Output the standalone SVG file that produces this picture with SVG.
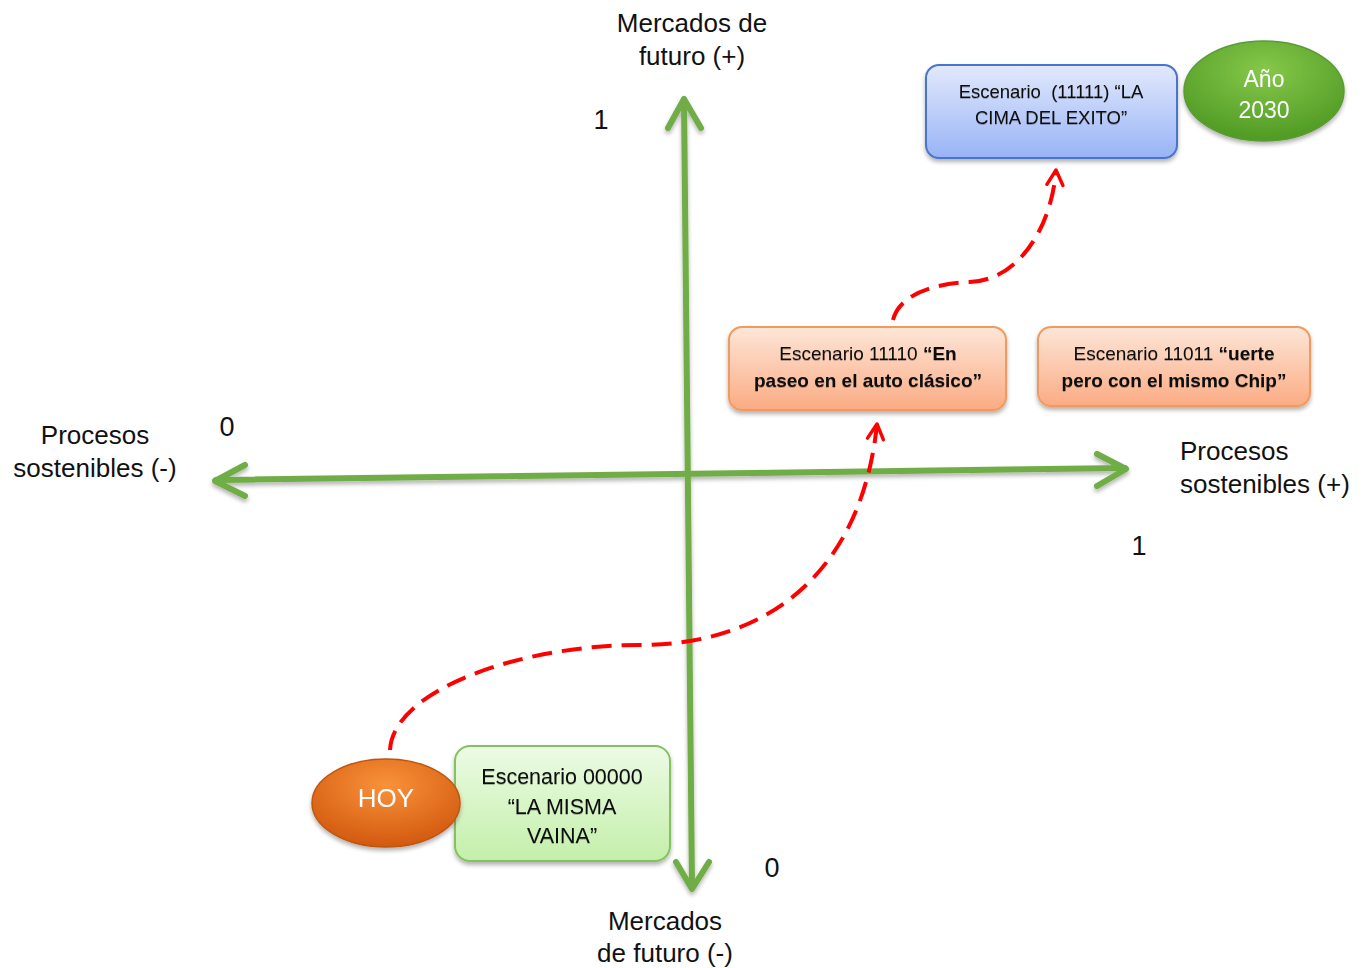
<svg xmlns="http://www.w3.org/2000/svg" width="1366" height="968" viewBox="0 0 1366 968">
<defs>
<filter id="sh" x="-20%" y="-20%" width="140%" height="150%">
<feDropShadow dx="0" dy="3" stdDeviation="2" flood-color="#000" flood-opacity="0.3"/>
</filter>
<filter id="tsh" x="-5%" y="-20%" width="110%" height="150%">
<feDropShadow dx="0" dy="1" stdDeviation="0.6" flood-color="#000" flood-opacity="0.25"/>
</filter>
<linearGradient id="gBlue" x1="0" y1="0" x2="0" y2="1"><stop offset="0" stop-color="#e2e9fc"/><stop offset="1" stop-color="#98b3f6"/></linearGradient>
<linearGradient id="gOr" x1="0" y1="0" x2="0" y2="1"><stop offset="0" stop-color="#fde6d8"/><stop offset="1" stop-color="#fbab83"/></linearGradient>
<linearGradient id="gGr" x1="0" y1="0" x2="0" y2="1"><stop offset="0" stop-color="#ecfbe5"/><stop offset="1" stop-color="#c4efaa"/></linearGradient>
<radialGradient id="gGreenE" cx="0.5" cy="0.3" r="0.7"><stop offset="0" stop-color="#86c84a"/><stop offset="1" stop-color="#4f9a24"/></radialGradient>
<radialGradient id="gHoy" cx="0.5" cy="0.3" r="0.7"><stop offset="0" stop-color="#f9923a"/><stop offset="1" stop-color="#d2590f"/></radialGradient>
<marker id="redArrow" viewBox="0 0 20 20" refX="17" refY="10" markerWidth="20" markerHeight="20" markerUnits="userSpaceOnUse" orient="auto">
<path d="M2,2 L17,10 L2,18" fill="none" stroke="#ff0000" stroke-width="3.4" stroke-linecap="round" stroke-linejoin="round"/>
</marker>
</defs>
<style>
.ax{fill:none;stroke:#70ad47;stroke-width:6;stroke-linecap:round;stroke-linejoin:round}
.lbl{font-family:"Liberation Sans",Arial,sans-serif;font-size:26px;fill:#111}
.num{font-family:"Liberation Sans",Arial,sans-serif;font-size:27px;fill:#111}
.bt{font-family:"Liberation Sans",Arial,sans-serif;fill:#111;text-anchor:middle}
.wt{font-family:"Liberation Sans",Arial,sans-serif;fill:#fff;text-anchor:middle}
.dash{fill:none;stroke:#ff0000;stroke-width:4;stroke-dasharray:20 10}
</style>

<g id="axes" filter="url(#sh)">
<path class="ax" d="M684,100 L692,888"/>
<path class="ax" d="M668,128 L684,99 L701,128"/>
<path class="ax" d="M676,862 L692,889 L709,862"/>
<path class="ax" d="M216,480 L1125,468"/>
<path class="ax" d="M245,465 L215,481 L245,496"/>
<path class="ax" d="M1097,454 L1126,469 L1097,486"/>
</g>

<g id="axis-labels">
<text class="lbl" x="692" y="32" text-anchor="middle">Mercados de</text>
<text class="lbl" x="692" y="65" text-anchor="middle">futuro (+)</text>
<text class="num" x="601" y="129" text-anchor="middle">1</text>
<text class="lbl" x="95" y="444" text-anchor="middle">Procesos</text>
<text class="lbl" x="95" y="477" text-anchor="middle">sostenibles (-)</text>
<text class="num" x="227" y="436" text-anchor="middle">0</text>
<text class="lbl" x="1180" y="460">Procesos</text>
<text class="lbl" x="1180" y="493">sostenibles (+)</text>
<text class="num" x="1139" y="555" text-anchor="middle">1</text>
<text class="num" x="772" y="877" text-anchor="middle">0</text>
<text class="lbl" x="665" y="930" text-anchor="middle">Mercados</text>
<text class="lbl" x="665" y="962" text-anchor="middle">de futuro (-)</text>
</g>

<g id="connectors">
<path class="dash" d="M390,750 C393,690 520,645 640,645 C770,645 862,570 877,424" marker-end="url(#redArrow)"/>
<path class="dash" d="M893,320 C900,292 940,283 970,282 C1020,280 1052,225 1056,170" marker-end="url(#redArrow)"/>
</g>

<g id="node-cima" filter="url(#sh)">
<rect x="926" y="65" width="251" height="93" rx="13" fill="url(#gBlue)" stroke="#4a74cc" stroke-width="2"/>
<text class="bt" x="1051" y="98" font-size="18.5" filter="url(#tsh)">Escenario&#160; (11111) “LA</text>
<text class="bt" x="1051" y="124" font-size="18.5" filter="url(#tsh)">CIMA DEL EXITO”</text>
</g>

<g id="node-2030" filter="url(#sh)">
<ellipse cx="1264" cy="91" rx="80" ry="50" fill="url(#gGreenE)" stroke="#5c9a35" stroke-width="1.5"/>
<text class="wt" x="1264" y="87" font-size="23">Año</text>
<text class="wt" x="1264" y="118" font-size="23">2030</text>
</g>

<g id="node-11110" filter="url(#sh)">
<rect x="729" y="327" width="277" height="83" rx="13" fill="url(#gOr)" stroke="#f19a5e" stroke-width="2"/>
<text class="bt" x="868" y="360" font-size="19" filter="url(#tsh)">Escenario 11110 <tspan font-weight="bold">“En</tspan></text>
<text class="bt" x="868" y="387" font-size="19" font-weight="bold" filter="url(#tsh)">paseo en el auto clásico”</text>
</g>

<g id="node-11011" filter="url(#sh)">
<rect x="1038" y="327" width="272" height="79" rx="13" fill="url(#gOr)" stroke="#f19a5e" stroke-width="2"/>
<text class="bt" x="1174" y="360" font-size="19" filter="url(#tsh)">Escenario 11011 <tspan font-weight="bold">“uerte</tspan></text>
<text class="bt" x="1174" y="387" font-size="19" font-weight="bold" filter="url(#tsh)">pero con el mismo Chip”</text>
</g>

<g id="node-00000" filter="url(#sh)">
<rect x="455" y="746" width="215" height="115" rx="15" fill="url(#gGr)" stroke="#86c060" stroke-width="2"/>
<text class="bt" x="562" y="784" font-size="21.5" filter="url(#tsh)">Escenario 00000</text>
<text class="bt" x="562" y="814" font-size="21.5" filter="url(#tsh)">“LA MISMA</text>
<text class="bt" x="562" y="843" font-size="21.5" filter="url(#tsh)">VAINA”</text>
</g>

<g id="node-hoy" filter="url(#sh)">
<ellipse cx="386" cy="803" rx="74" ry="44" fill="url(#gHoy)" stroke="#c0560f" stroke-width="1.5"/>
<text class="wt" x="386" y="807" font-size="26">HOY</text>
</g>
</svg>
